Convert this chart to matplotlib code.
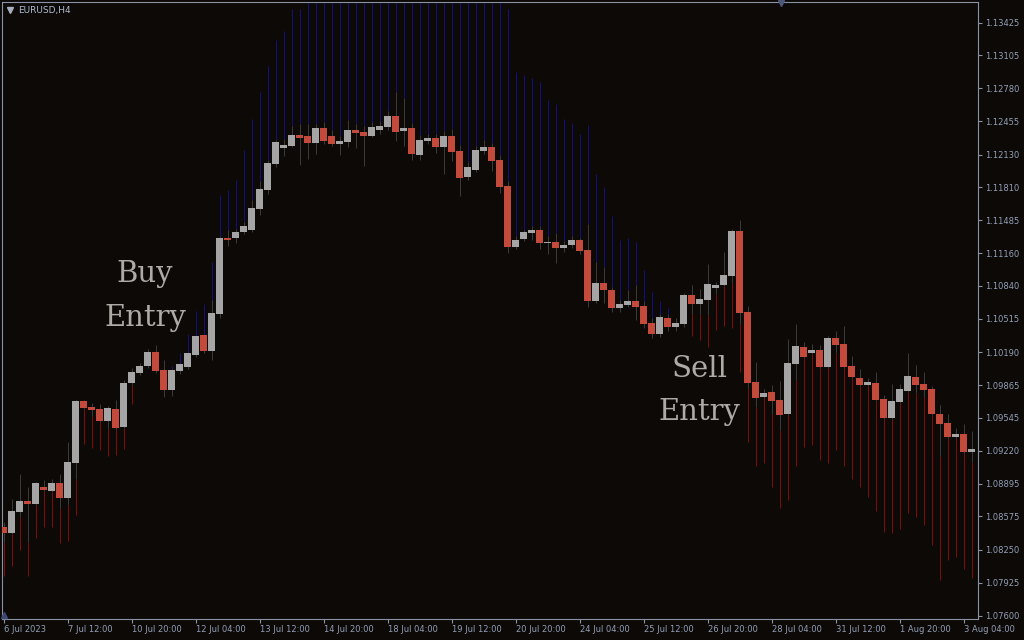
import matplotlib
matplotlib.use('Agg')
import matplotlib.pyplot as plt


# EURUSD H4 candles (index 0 = 6 Jul 2023)
opens = [
    1.08471, 1.08412, 1.08619, 1.08727, 1.08697, 1.08864, 1.08825, 1.08903, 1.08756, 1.09100,
    1.09709, 1.09650, 1.09631, 1.09512, 1.09631, 1.09454, 1.09886, 1.09984, 1.10053, 1.10190,
    1.10013, 1.09817, 1.10004, 1.10043, 1.10160, 1.10357, 1.10200, 1.10563, 1.11310, 1.11310,
    1.11369, 1.11389, 1.11595, 1.11782, 1.12037, 1.12194, 1.12214, 1.12322, 1.12312, 1.12243,
    1.12391, 1.12312, 1.12233, 1.12253, 1.12371, 1.12352, 1.12312, 1.12371, 1.12400, 1.12509,
    1.12361, 1.12391, 1.12126, 1.12263, 1.12292, 1.12204, 1.12312, 1.12165, 1.11910, 1.11978,
    1.12165, 1.12204, 1.12076, 1.11821, 1.11221, 1.11300, 1.11359, 1.11389, 1.11261, 1.11270,
    1.11211, 1.11241, 1.11290, 1.11192, 1.10691, 1.10868, 1.10799, 1.10622, 1.10651, 1.10691,
    1.10642, 1.10475, 1.10366, 1.10524, 1.10436, 1.10465, 1.10750, 1.10661, 1.10701, 1.10819,
    1.10848, 1.10936, 1.11379, 1.10583, 1.09895, 1.09748, 1.09797, 1.09719, 1.09581, 1.10072,
    1.10239, 1.10180, 1.10210, 1.10043, 1.10328, 1.10269, 1.10053, 1.09935, 1.09866, 1.09886,
    1.09729, 1.09542, 1.09699, 1.09807, 1.09945, 1.09876, 1.09827, 1.09581, 1.09493, 1.09355,
    1.09385, 1.09208,
]
highs = [
    1.08520, 1.08746, 1.08992, 1.08864, 1.08913, 1.08933, 1.08943, 1.08992, 1.09306, 1.09719,
    1.09719, 1.09690, 1.09680, 1.09660, 1.09719, 1.09915, 1.10033, 1.10082, 1.10220, 1.10259,
    1.10112, 1.10020, 1.10075, 1.10185, 1.10352, 1.10362, 1.10701, 1.11330, 1.11389, 1.11399,
    1.11467, 1.11683, 1.11871, 1.12076, 1.12273, 1.12283, 1.12410, 1.12430, 1.12430, 1.12430,
    1.12450, 1.12371, 1.12312, 1.12469, 1.12430, 1.12410, 1.12450, 1.12459, 1.12557, 1.12744,
    1.12685, 1.12440, 1.12322, 1.12332, 1.12332, 1.12361, 1.12381, 1.12224, 1.12057, 1.12214,
    1.12273, 1.12243, 1.12125, 1.11870, 1.11330, 1.11389, 1.11428, 1.11428, 1.11330, 1.11359,
    1.11280, 1.11330, 1.11310, 1.11447, 1.11074, 1.11025, 1.10828, 1.10701, 1.10799, 1.10848,
    1.10691, 1.10524, 1.10563, 1.10563, 1.10524, 1.10770, 1.10848, 1.10809, 1.11054, 1.10878,
    1.11172, 1.11399, 1.11487, 1.10642, 1.10092, 1.09827, 1.09866, 1.09905, 1.10318, 1.10465,
    1.10288, 1.10269, 1.10259, 1.10347, 1.10396, 1.10445, 1.10151, 1.10023, 1.09935, 1.09994,
    1.09768, 1.09876, 1.09876, 1.10180, 1.10063, 1.09994, 1.09856, 1.09670, 1.09581, 1.09444,
    1.09483, 1.09414,
]
lows = [
    1.08324, 1.08405, 1.08570, 1.08324, 1.08690, 1.08828, 1.08818, 1.08658, 1.08687, 1.08943,
    1.09633, 1.09562, 1.09505, 1.09444, 1.09437, 1.09447, 1.09866, 1.09964, 1.10033, 1.09984,
    1.09748, 1.09758, 1.09974, 1.10023, 1.10140, 1.10180, 1.10112, 1.10524, 1.11231, 1.11260,
    1.11349, 1.11369, 1.11536, 1.11742, 1.12008, 1.12116, 1.12204, 1.12027, 1.12086, 1.12135,
    1.12233, 1.12214, 1.12125, 1.12204, 1.12194, 1.12017, 1.12302, 1.12332, 1.12371, 1.12263,
    1.12214, 1.12076, 1.12076, 1.12233, 1.12145, 1.11939, 1.12066, 1.11723, 1.11880, 1.11958,
    1.12136, 1.11968, 1.11752, 1.11162, 1.11202, 1.11280, 1.11290, 1.11202, 1.11153, 1.11064,
    1.11172, 1.11211, 1.11153, 1.10633, 1.10671, 1.10671, 1.10583, 1.10583, 1.10633, 1.10505,
    1.10426, 1.10327, 1.10337, 1.10396, 1.10396, 1.10436, 1.10563, 1.10563, 1.10553, 1.10760,
    1.10840, 1.10868, 1.10465, 1.09837, 1.09650, 1.09741, 1.09581, 1.09424, 1.09574, 1.09915,
    1.10134, 1.10173, 1.10036, 1.10036, 1.10180, 1.10036, 1.09938, 1.09859, 1.09859, 1.09712,
    1.09535, 1.09535, 1.09692, 1.09800, 1.09788, 1.09748, 1.09574, 1.09169, 1.09348, 1.09348,
    1.09201, 1.09110,
]
closes = [
    1.08412, 1.08628, 1.08727, 1.08697, 1.08903, 1.08835, 1.08903, 1.08756, 1.09110, 1.09709,
    1.09640, 1.09621, 1.09512, 1.09640, 1.09444, 1.09886, 1.09994, 1.10053, 1.10190, 1.10004,
    1.09817, 1.10013, 1.10072, 1.10180, 1.10347, 1.10200, 1.10573, 1.11310, 1.11290, 1.11369,
    1.11428, 1.11605, 1.11791, 1.12047, 1.12253, 1.12224, 1.12322, 1.12292, 1.12243, 1.12391,
    1.12263, 1.12233, 1.12263, 1.12371, 1.12342, 1.12312, 1.12400, 1.12410, 1.12509, 1.12352,
    1.12391, 1.12136, 1.12273, 1.12292, 1.12204, 1.12312, 1.12155, 1.11900, 1.12008, 1.12175,
    1.12204, 1.12066, 1.11811, 1.11221, 1.11290, 1.11369, 1.11389, 1.11261, 1.11270, 1.11211,
    1.11241, 1.11290, 1.11182, 1.10691, 1.10868, 1.10799, 1.10622, 1.10661, 1.10691, 1.10633,
    1.10465, 1.10366, 1.10534, 1.10436, 1.10475, 1.10750, 1.10661, 1.10711, 1.10858, 1.10848,
    1.10946, 1.11379, 1.10573, 1.09886, 1.09738, 1.09788, 1.09709, 1.09572, 1.10082, 1.10249,
    1.10141, 1.10210, 1.10043, 1.10328, 1.10259, 1.10043, 1.09945, 1.09866, 1.09895, 1.09719,
    1.09542, 1.09709, 1.09827, 1.09954, 1.09866, 1.09817, 1.09581, 1.09483, 1.09355, 1.09385,
    1.09208, 1.09238,
]
# entry indicator level: above the high = blue bar, below the low = red bar
stops = [
    1.07990, 1.08088, 1.08245, 1.07990, 1.08363, 1.08471, 1.08471, 1.08314, 1.08334, 1.08589,
    1.09287, 1.09248, 1.09228, 1.09169, 1.09179, 1.09238, 1.09679, None, None, None,
    None, 1.10053, 1.10180, 1.10367, 1.10593, 1.10661, 1.11074, 1.11733, 1.11782, 1.11880,
    1.12175, 1.12479, 1.12744, 1.13000, 1.13255, 1.13343, 1.13560, 1.13560, 1.13800, 1.13800,
    1.13800, 1.13800, 1.13800, 1.13800, 1.13800, 1.13800, 1.13800, 1.13800, 1.13800, 1.13800,
    1.13800, 1.13800, 1.13800, 1.13800, 1.13800, 1.13800, 1.13800, 1.13800, 1.13800, 1.13800,
    1.13800, 1.13800, 1.13800, 1.13560, 1.12941, 1.12911, 1.12882, 1.12843, 1.12666, 1.12627,
    1.12479, 1.12439, 1.12331, 1.12419, 1.11939, 1.11811, 1.11526, 1.11290, 1.11310, 1.11270,
    1.10996, 1.10780, 1.10691, 1.10622, None, None, 1.10347, 1.10308, 1.10239, 1.10406,
    1.10445, 1.10426, 1.09994, 1.09306, 1.09070, 1.09100, 1.08864, 1.08658, 1.08736, 1.09070,
    1.09257, 1.09277, 1.09129, 1.09100, 1.09228, 1.09070, 1.08943, 1.08864, 1.08766, 1.08628,
    1.08422, 1.08412, 1.08451, 1.08609, 1.08569, 1.08490, 1.08294, 1.07952, 1.08147, 1.08177,
    1.08059, 1.07971,
]

date_ticks = [0, 8, 16, 24, 32, 40, 48, 56, 64, 72, 80, 88, 96, 104, 112, 120]
date_labels = ['6 Jul 2023', '7 Jul 12:00', '10 Jul 20:00', '12 Jul 04:00',
               '13 Jul 12:00', '14 Jul 20:00', '18 Jul 04:00', '19 Jul 12:00',
               '20 Jul 20:00', '24 Jul 04:00', '25 Jul 12:00', '26 Jul 20:00',
               '28 Jul 04:00', '31 Jul 12:00', '1 Aug 20:00', '3 Aug 04:00']
price_ticks = [1.07600, 1.07925, 1.08250, 1.08575, 1.08895, 1.09220, 1.09545,
               1.09865, 1.10190, 1.10515, 1.10840, 1.11160, 1.11485, 1.11810,
               1.12130, 1.12455, 1.12780, 1.13105, 1.13425]

BG = '#0c0907'
FRAME = '#8a92a3'
LABEL = '#93a0b6'
BULL = '#a5a5a5'
BEAR = '#c44a3b'
WICK = '#3a3a3a'
BLUE = '#1414b4'
RED = '#b41010'
NOTE = '#aeaaa5'


def draw_candles(ax):
    n = len(opens)
    for i in range(n):
        s = stops[i]
        if s is None:
            continue
        if s > highs[i]:
            ax.vlines(i, highs[i], s, color=BLUE, lw=0.5, zorder=1)
        elif s < lows[i]:
            ax.vlines(i, s, lows[i], color=RED, lw=0.5, zorder=1)

    ax.vlines(list(range(n)), lows, highs, color=WICK, lw=0.75, zorder=2)

    for i in range(n):
        o, c = opens[i], closes[i]
        col = BULL if c >= o else BEAR
        h = max(abs(c - o), 0.0001)
        ax.bar(i, h, bottom=min(o, c), width=0.875, color=col, lw=0, zorder=3)


def main():
    fig = plt.figure(figsize=(10.24, 6.4), dpi=100, facecolor=BG)
    ax = fig.add_axes([2 / 1024, 21 / 640, 976 / 1024, 617 / 640])
    ax.set_facecolor(BG)

    draw_candles(ax)

    ax.set_xlim(-0.1875, 121.8125)
    ax.set_ylim(1.075676, 1.136284)

    for sp in ax.spines.values():
        sp.set_color(FRAME)
        sp.set_linewidth(0.8)

    ax.yaxis.tick_right()
    ax.set_yticks(price_ticks)
    ax.set_yticklabels(['{:.5f}'.format(p) for p in price_ticks])
    ax.tick_params(axis='y', direction='out', length=3, width=0.8, color=FRAME,
                   labelcolor=LABEL, labelsize=6, pad=2)

    ax.set_xticks(date_ticks)
    ax.set_xticklabels(date_labels)
    ax.tick_params(axis='x', direction='out', length=3, width=0.8, color=FRAME,
                   labelcolor=LABEL, labelsize=6, pad=1.5)
    plt.setp(ax.get_xticklabels(), ha='left')

    # chart caption
    fig.text(18 / 1024, 1 - 10 / 640, 'EURUSD,H4', color='#b0bccf', fontsize=6.5, va='center')
    fig.lines.append(plt.Line2D([9.5 / 1024], [1 - 10 / 640], marker='v', ms=4,
                                color='#a8b0c0', transform=fig.transFigure))
    fig.lines.append(plt.Line2D([781 / 1024], [1 - 3 / 640], marker='v', ms=5,
                                color='#4c5878', transform=fig.transFigure))
    fig.lines.append(plt.Line2D([4 / 1024], [1 - 615 / 640], marker='^', ms=4,
                                color='#3c4870', transform=fig.transFigure))

    # annotations
    fig.text(145 / 1024, 1 - 282 / 640, 'Buy', color=NOTE, fontsize=21,
             family='DejaVu Serif', ha='center', va='baseline')
    fig.text(145 / 1024, 1 - 326 / 640, 'Entry', color=NOTE, fontsize=21,
             family='DejaVu Serif', ha='center', va='baseline')
    fig.text(699 / 1024, 1 - 377 / 640, 'Sell', color=NOTE, fontsize=21,
             family='DejaVu Serif', ha='center', va='baseline')
    fig.text(699 / 1024, 1 - 420 / 640, 'Entry', color=NOTE, fontsize=21,
             family='DejaVu Serif', ha='center', va='baseline')

    fig.savefig('out.png', dpi=100, facecolor=BG)


if __name__ == '__main__':
    main()
